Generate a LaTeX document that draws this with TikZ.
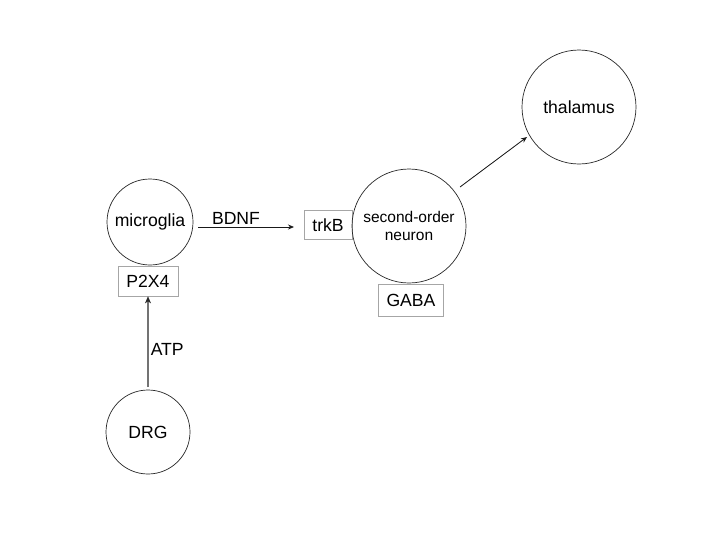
\documentclass[tikz,border=0pt]{standalone}
\usepackage{fontspec}
\setmainfont{Liberation Sans}
\usetikzlibrary{arrows.meta}
\begin{document}
\begin{tikzpicture}[x=1pt,y=-1pt,
  font=\fontsize{17.6}{19}\selectfont,
  cell/.style={circle,draw=black!85,line width=0.7pt,inner sep=0pt},
  rec/.style={draw=black!35,line width=0.8pt,inner sep=0pt},
  conn/.style={line width=0.8pt,-{Stealth[length=6pt,width=5pt]}}]
\useasboundingbox (0,0) rectangle (717,544);
\node[cell,minimum size=86pt] (mic) at (150,222) {microglia};
\node[rec,minimum width=60pt,minimum height=30pt] (p2x4) at (148,281) {P2X4};
\node[cell,minimum size=84pt] (drg) at (148,432) {DRG};
\node[rec,minimum width=48pt,minimum height=29pt] (trkb) at (328,225) {trkB};
\node[cell,minimum size=114pt,align=center,font=\fontsize{15.5}{18}\selectfont] (son) at (409,226) {second-order\\neuron};
\node[rec,minimum width=65pt,minimum height=32pt] (gaba) at (411,300) {GABA};
\node[cell,minimum size=114pt] (thal) at (579,107) {thalamus};
\coordinate (b1) at (198,227);
\coordinate (b2) at (294,227);
\draw[conn,draw=black!90,fill=black!90] (b1) -- node[above,inner sep=2pt,xshift=-10pt] {BDNF} (b2);
\coordinate (a1) at (148,387);
\draw[line width=1.5pt,draw=black!55,-{Stealth[length=7pt,width=6pt,color=black!85,fill=black!85,line width=0.5pt]}] (a1) -- node[right,inner sep=2pt,yshift=-8pt] {ATP} (p2x4.south);
\coordinate (t1) at (460,187);
\coordinate (t2) at (527,137);
\draw[conn,draw=black!90,fill=black!90] (t1) -- (t2);
\end{tikzpicture}
\end{document}
